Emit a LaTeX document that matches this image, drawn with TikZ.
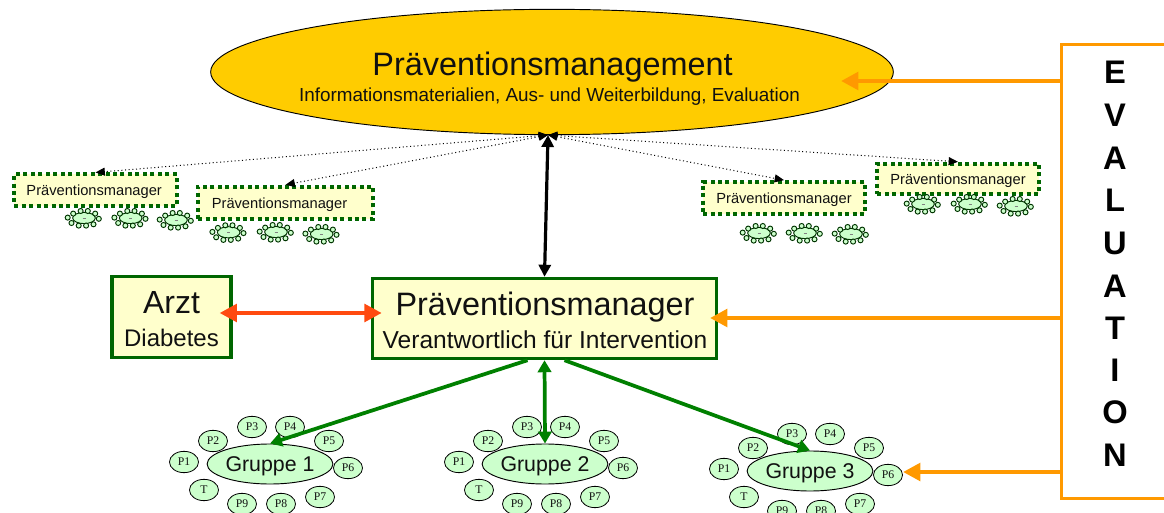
\documentclass[tikz,border=0pt]{standalone}
\usepackage{fontspec}
\setmainfont{Liberation Sans}
\newfontfamily\pfont{Liberation Serif}
\usetikzlibrary{arrows.meta,shapes.geometric}
\definecolor{boxgreen}{HTML}{006600}
\definecolor{arrowgreen}{HTML}{008000}
\definecolor{lightgreen}{HTML}{CCFFCC}
\definecolor{cream}{HTML}{FFFFCC}
\definecolor{gold}{HTML}{FFCC00}
\definecolor{evalorange}{HTML}{FF9900}
\definecolor{redorange}{HTML}{FF4A10}
\definecolor{txt}{HTML}{111111}
\tikzset{
  solidbox/.style={draw=boxgreen,fill=cream,line width=2.6pt,inner sep=0pt,text=txt,align=center},
  dotbox/.style={draw=boxgreen,fill=cream,line width=2.8pt,dash pattern=on 3pt off 2.6pt,inner sep=0pt,text=txt,text depth=0pt,font=\fontsize{11}{13}\selectfont},
  gruppe/.style={ellipse,draw=black,fill=lightgreen,line width=0.7pt,minimum width=91.5pt,minimum height=30pt,inner sep=0pt,text depth=0.4pt,font=\fontsize{16}{19}\selectfont,text=txt},
  pers/.style={ellipse,draw=black,fill=lightgreen,line width=0.6pt,minimum width=21.8pt,minimum height=16pt,inner sep=0pt,font=\pfont\fontsize{8.8}{10}\selectfont,text=txt},
  minig/.style={ellipse,draw=black!80!green,fill=lightgreen,line width=0.7pt,minimum width=17pt,minimum height=8.4pt,inner sep=0pt},
  minip/.style={circle,draw=black!80!green,fill=lightgreen,line width=0.7pt,minimum size=3.8pt,inner sep=0pt},
  dotarrow/.style={draw=black,line width=0.75pt,dotted,{Triangle[length=7pt,width=6pt,sep=0pt]}-{Triangle[length=7pt,width=6pt]}},
  blackarrow/.style={draw=black,line width=2.4pt,{Triangle[length=9pt,width=9pt]}-{Triangle[length=9pt,width=9pt]}},
  redarrow/.style={draw=redorange,line width=3.6pt,{Triangle[length=13pt,width=13pt]}-{Triangle[length=13pt,width=13pt]}},
  greenarrow/.style={draw=arrowgreen,line width=2.8pt,-{Triangle[length=9pt,width=10pt]}},
  greendouble/.style={draw=arrowgreen,line width=2.8pt,{Triangle[length=9pt,width=10pt]}-{Triangle[length=9pt,width=10pt]}},
  orangearrow/.style={draw=evalorange,line width=3.6pt,-{Triangle[length=13pt,width=13pt]}},
  evalletter/.style={font=\bfseries\fontsize{24.5}{27}\selectfont,text=black,inner sep=0pt},
}
\newcommand{\biggroup}[4]{% id, x, y, label
  \node[gruppe] (#1) at (#2,#3) {#4};
  \foreach \nm/\dx/\dy in {P1/-86/-2,P2/-57/-23,P3/-18/-37,P4/20/-37,P5/59/-23,P6/78/4,P7/50/33,P8/11/40,P9/-28/40,T/-66/26}
    \node[pers] (#1\nm) at ({#2+\dx},{#3+\dy}) {\nm};
}
\newcommand{\minigroup}[3]{% id, x, y
  \node[minig] (#1) at (#2,#3) {};
  \draw[gray,line width=0.3pt] (#2-1.5,#3) -- (#2+1.5,#3);
  \foreach \i/\dx/\dy in {1/-16.3/-0.4,2/-10.8/-4.4,3/-3.4/-7,4/3.8/-7,5/11.2/-4.4,6/14.8/0.8,7/9.5/6.3,8/2.1/7.6,9/-5.3/7.6,10/-12.5/5}
    \node[minip] (#1p\i) at ({#2+\dx},{#3+\dy}) {};
}
\begin{document}
\begin{tikzpicture}[x=0.75pt,y=-0.75pt]
\useasboundingbox (0,0) rectangle (1164,513);
% main ellipse
\node[ellipse,draw=black,fill=gold,line width=0.7pt,minimum width=512pt,minimum height=94pt,inner sep=0pt] (main) at (552,72) {};
\node[font=\fontsize{24.3}{28}\selectfont,text=txt,inner sep=0pt] (maintitle) at (552.5,67) {Präventionsmanagement};
\node[font=\fontsize{14.15}{17}\selectfont,text=txt,inner sep=0pt] (mainsub) at (549.5,96.5) {Informationsmaterialien, Aus- und Weiterbildung, Evaluation};
\coordinate (apex) at (548,135);
% small managers
\node[dotbox,minimum width=122pt,minimum height=23.5pt] (pm1) at (95.5,190) {\hspace*{-2pt}Präventionsmanager};
\node[dotbox,minimum width=131pt,minimum height=24.5pt] (pm2) at (285.5,203) {\hspace*{-9pt}Präventionsmanager};
\node[dotbox,minimum width=121pt,minimum height=24pt] (pm3) at (784,198) {Präventionsmanager};
\node[dotbox,minimum width=121pt,minimum height=23pt] (pm4) at (958,179) {Präventionsmanager};
\minigroup{a1}{84}{218}\minigroup{a2}{130.7}{218}\minigroup{a3}{176}{220}
\minigroup{b1}{228.7}{232.3}\minigroup{b2}{276}{232}\minigroup{b3}{321.7}{234}
\minigroup{c1}{759}{233}\minigroup{c2}{805}{233}\minigroup{c3}{851}{234}
\minigroup{d1}{923}{204}\minigroup{d2}{970}{204}\minigroup{d3}{1016}{206}
\draw[dotarrow] (apex) -- (pm1.north);
\draw[dotarrow] (apex) -- (pm2.north);
\draw[dotarrow] (apex) -- (pm3.north);
\draw[dotarrow] (apex) -- (pm4.north);
% central boxes
\node[solidbox,minimum width=258pt,minimum height=60pt] (pm) at (544.5,318.5) {};
\node[font=\fontsize{24.3}{28}\selectfont,text=txt,inner sep=0pt] (pmt) at (545,307.5) {Präventionsmanager};
\node[font=\fontsize{18.4}{22}\selectfont,text=txt,inner sep=0pt] (pms) at (545,340) {Verantwortlich für Intervention};
\node[solidbox,minimum width=89pt,minimum height=61pt] (arzt) at (171.5,317) {};
\node[font=\fontsize{24}{28}\selectfont,text=txt,inner sep=0pt] (arztt) at (171.5,303) {Arzt};
\node[font=\fontsize{18}{22}\selectfont,text=txt,inner sep=0pt] (arzts) at (171.5,338) {Diabetes};
\draw[blackarrow] (apex) -- (pm.north);
\coordinate (ra) at ([shift={(-13,-4)}]arzt.east);
\coordinate (rb) at (ra -| pm.west);
\draw[redarrow] (ra) -- ([xshift=8.25pt]rb);
% groups
\biggroup{g1}{270}{464}{Gruppe 1}
\biggroup{g2}{545}{464}{Gruppe 2}
\biggroup{g3}{810}{471}{Gruppe 3}
\coordinate (s1) at ([xshift=-12.75pt]pm.south);
\coordinate (s3) at ([xshift=15pt]pm.south);
\draw[greenarrow] (s1) -- (g1.north);
\draw[greendouble] (pm.south) -- (g2.north);
\draw[greenarrow] (s3) -- (g3.north);
% evaluation
\node[draw=evalorange,fill=white,line width=2.2pt,minimum width=80pt,minimum height=341pt,inner sep=0pt] (eval) at (1115,271.5) {};
\foreach \l/\y in {E/72,V/115,A/158,L/200,U/243,A/286,T/328,I/370,O/412,N/455}
  \node[evalletter] (ev\y) at (1115,\y) {\l};
\coordinate (oa) at (1062,81);
\coordinate (oat) at (841,81);
\coordinate (ob) at (1062,318);
\coordinate (obt) at (710,318);
\coordinate (oc) at (1062,472);
\coordinate (oct) at (903,472);
\draw[orangearrow] (oa) -- (oat);
\draw[orangearrow] (ob) -- (obt);
\draw[orangearrow] (oc) -- (oct);
\end{tikzpicture}
\end{document}
